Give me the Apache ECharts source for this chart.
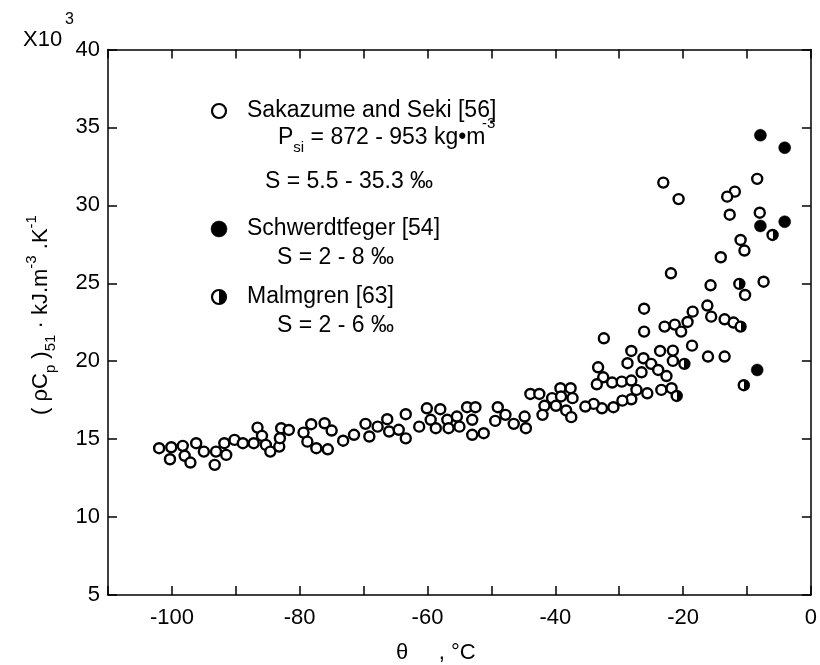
<!DOCTYPE html>
<html><head><meta charset="utf-8">
<script src="https://cdn.jsdelivr.net/npm/echarts@6/dist/echarts.min.js"></script>
<style>html,body{margin:0;padding:0;background:#fff}#c{width:820px;height:665px}</style>
</head><body><div id="c"></div>
<script>
// Sakazume and Seki [56] (open circles)
const sakazume = [
[-102.0,14.42],[-100.1,14.48],[-100.3,13.71],[-98.3,14.57],[-98.0,13.93],[-97.1,13.5],[-96.2,14.74],[-95.0,14.2],
[-93.1,14.2],[-93.3,13.35],[-91.5,13.99],[-91.8,14.74],[-90.2,14.95],[-88.9,14.74],[-87.2,14.74],[-86.6,15.74],
[-85.9,15.21],[-85.3,14.63],[-84.6,14.2],[-83.2,14.52],[-82.9,15.7],[-83.1,15.06],[-81.7,15.59],[-79.4,15.42],
[-78.2,15.96],[-76.1,16.02],[-75.0,15.55],[-78.8,14.84],[-77.4,14.42],[-75.6,14.35],[-73.2,14.9],
[-71.5,15.28],[-69.1,15.17],[-69.7,15.98],[-67.8,15.8],[-66.3,16.28],[-66.0,15.49],[-64.5,15.6],[-63.4,16.6],
[-63.4,15.05],[-61.3,15.8],[-60.1,16.98],[-59.5,16.24],[-58.7,15.7],[-58.0,16.92],[-56.9,16.24],[-56.7,15.7],
[-55.4,16.45],[-55.0,15.8],[-53.8,17.05],[-53.0,16.24],[-53.0,15.28],[-52.5,17.05],[-51.2,15.38],[-49.0,17.05],
[-47.8,16.56],[-49.4,16.17],[-46.5,15.98],[-44.8,16.45],[-44.6,15.7],
[-43.9,17.9],[-42.5,17.9],[-40.5,17.63],[-39.2,18.27],[-37.6,18.27],[-39.1,17.74],[-37.3,17.63],[-41.7,17.14],
[-39.9,17.14],[-38.3,16.84],[-42.0,16.56],[-37.5,16.41],
[-23.1,31.46],[-20.7,30.4],[-8.4,31.7],[-11.9,30.88],[-13.1,30.56],[-12.7,29.4],[-8.0,29.53],[-11.0,27.78],
[-10.4,27.1],[-14.1,26.67],[-21.9,25.64],[-15.7,24.87],[-7.4,25.1],[-10.3,24.25],[-26.1,23.37],[-18.5,23.18],
[-16.2,23.57],[-15.6,22.86],[-13.5,22.69],[-12.1,22.48],[-19.3,22.52],[-21.3,22.35],[-22.9,22.22],[-20.3,21.9],
[-26.1,21.9],[-32.4,21.47],[-18.6,21.0],[-16.1,20.3],[-13.5,20.3],[-23.6,20.66],[-21.6,20.68],[-21.6,20.02],
[-28.1,20.66],[-28.7,19.87],[-26.2,20.19],[-25.0,19.83],[-23.9,19.44],[-22.6,19.05],[-26.5,19.29],[-33.3,19.61],
[-32.5,18.97],[-33.5,18.52],[-31.1,18.63],[-29.6,18.69],[-28.1,18.76],[-27.3,18.16],[-28.1,17.56],[-29.5,17.47],
[-25.6,17.94],[-23.4,18.16],[-21.8,18.27],[-30.9,17.05],[-32.7,16.98],[-34.0,17.26],[-35.3,17.09]
];
// Schwerdtfeger [54] (filled circles)
const schwerdtfeger = [[-7.9,34.5],[-4.1,33.7],[-7.9,28.68],[-4.1,28.95],[-8.4,19.44]];
// Malmgren [63] (half-filled circles)
const malmgren = [[-6.0,28.1],[-11.2,24.96],[-11.0,22.22],[-19.8,19.83],[-21.0,17.77],[-10.5,18.46]];
const xTickLabels = [-100,-80,-60,-40,-20,0];
const yTickLabels = [5,10,15,20,25,30,35,40];

const FONT = '"Liberation Sans", Arial, Helvetica, sans-serif';
const chart = echarts.init(document.getElementById('c'));
const half = () => new echarts.graphic.LinearGradient(0,0,1,0,[
  {offset:0,color:'#fff'},{offset:0.5,color:'#fff'},{offset:0.5,color:'#000'},{offset:1,color:'#000'}]);
const line = {color:'#000', width:1.5};
const tick = {show:true, inside:true, length:9, lineStyle:{color:'#000', width:1.5}};
function xAx(pos, labels){
  return {type:'value', min:-110, max:0, interval:10, position:pos,
    axisLine:{show:true, onZero:false, lineStyle:line}, axisTick:tick, splitLine:{show:false},
    axisLabel:{show:labels, formatter:v=>xTickLabels.includes(v)?String(v):'', fontSize:22, color:'#000',
      fontFamily:FONT, margin:12, showMinLabel:true, showMaxLabel:true}};
}
function yAx(pos, labels){
  return {type:'value', min:5, max:40, interval:5, position:pos,
    axisLine:{show:true, onZero:false, lineStyle:line}, axisTick:tick, splitLine:{show:false},
    axisLabel:{show:labels, formatter:v=>yTickLabels.includes(v)?String(v):'', fontSize:22, color:'#000',
      fontFamily:FONT, margin:8}};
}
const T = (txt, x, y, size, extra) => Object.assign({type:'text', x:x, y:y, silent:true,
  style:Object.assign({text:txt, fontSize:size||22, fontFamily:FONT, fill:'#000',
    align:'left', verticalAlign:'middle', textAlign:'left', textVerticalAlign:'middle'}, extra||{})});
const rich = (s) => ({
  b:{fontSize:s, fontFamily:FONT, lineHeight:34, fill:'#000'},
  sub:{fontSize:15, fontFamily:FONT, lineHeight:15, verticalAlign:'bottom', fill:'#000'},
  sup:{fontSize:15, fontFamily:FONT, lineHeight:15, verticalAlign:'top', fill:'#000'}
});
const LF = 23;
const option = {
  animation:false,
  backgroundColor:'#fff',
  grid:{left:108, right:7, top:49.5, bottom:70},
  xAxis:[xAx('bottom', true), xAx('top', false)],
  yAxis:[yAx('left', true), yAx('right', false)],
  series:[
    {type:'scatter', name:'Sakazume and Seki [56]', data:sakazume, symbol:'circle', symbolSize:10,
      itemStyle:{color:'#fff', borderColor:'#000', borderWidth:2.4, opacity:1}},
    {type:'scatter', name:'Schwerdtfeger [54]', data:schwerdtfeger, symbol:'circle', symbolSize:12,
      itemStyle:{color:'#000', borderColor:'#000', borderWidth:0.5, opacity:1}},
    {type:'scatter', name:'Malmgren [63]', data:malmgren, symbol:'circle', symbolSize:10,
      itemStyle:{color:half(), borderColor:'#000', borderWidth:2.4, opacity:1}}
  ],
  graphic:[
    T('X10', 23, 40, 22),
    T('3', 65, 20, 16),
    Object.assign(T('', 41, 315, 22, {
      text:'{b|( ρC}{sub|p}{b| )}{sub|51}{b| · kJ.m}{sup|-3}{b| .K}{sup|-1}', rich:rich(22),
      align:'center', textAlign:'center'}), {rotation:Math.PI/2}),
    T('θ     , °C', 396, 653, 22),
    {type:'circle', shape:{cx:219, cy:111, r:7}, style:{fill:'#fff', stroke:'#000', lineWidth:2.2}, silent:true},
    T('Sakazume and Seki [56]', 247, 111, LF),
    T('', 278, 138, LF, {text:'{b|P}{sub|si}{b| = 872 - 953 kg•m}', rich:rich(LF)}),
    T('-3', 482, 124, 15),
    T('S = 5.5 - 35.3 ‰', 265, 182, LF),
    {type:'circle', shape:{cx:219, cy:229, r:8}, style:{fill:'#000', stroke:'#000', lineWidth:0.5}, silent:true},
    T('Schwerdtfeger [54]', 247, 229, LF),
    T('S = 2 - 8 ‰', 277, 258, LF),
    {type:'circle', shape:{cx:219, cy:297, r:7}, style:{fill:half(), stroke:'#000', lineWidth:2.2}, silent:true},
    T('Malmgren [63]', 247, 297, LF),
    T('S = 2 - 6 ‰', 277, 326, LF)
  ]
};
chart.setOption(option);
</script></body></html>
